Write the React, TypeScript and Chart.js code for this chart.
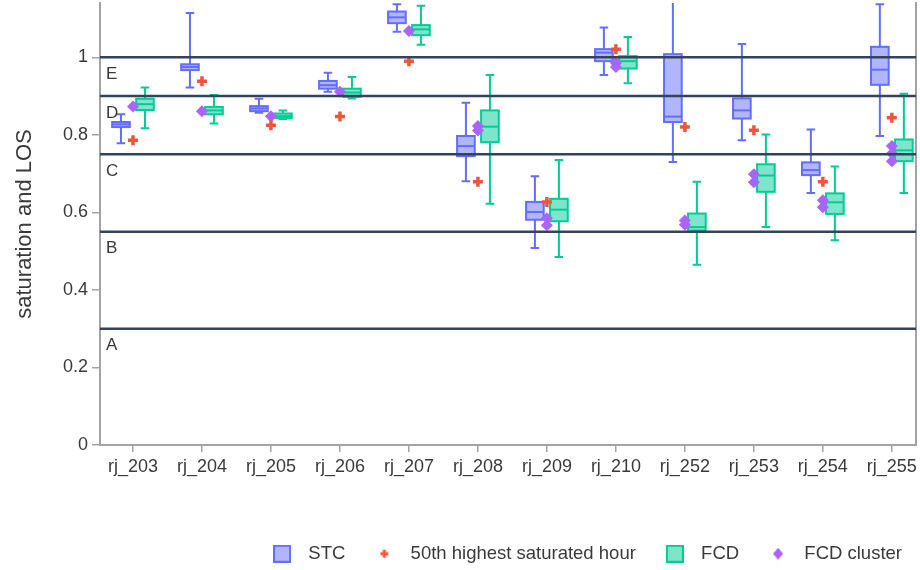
import React, { useEffect, useRef } from 'react';
import { Chart, registerables } from 'chart.js';

Chart.register(...registerables);

// ---------- data ----------
const categories = ['rj_203', 'rj_204', 'rj_205', 'rj_206', 'rj_207', 'rj_208', 'rj_209', 'rj_210', 'rj_252', 'rj_253', 'rj_254', 'rj_255'];

// STC box statistics
const stcLow = [0.778, 0.922, 0.857, 0.911, 1.066, 0.680, 0.508, 0.954, 0.730, 0.786, 0.650, 0.797];
const stcQ1 = [0.820, 0.967, 0.861, 0.919, 1.088, 0.745, 0.581, 0.990, 0.833, 0.842, 0.696, 0.929];
const stcMedian = [0.827, 0.975, 0.868, 0.928, 1.103, 0.771, 0.601, 1.012, 0.847, 0.863, 0.709, 0.968];
const stcQ3 = [0.833, 0.982, 0.874, 0.939, 1.118, 0.797, 0.627, 1.021, 1.008, 0.894, 0.729, 1.027];
const stcHigh = [0.853, 1.114, 0.893, 0.960, 1.137, 0.883, 0.693, 1.077, 1.200, 1.034, 0.814, 1.137];

// FCD box statistics
const fcdLow = [0.817, 0.829, 0.841, 0.894, 1.032, 0.622, 0.485, 0.933, 0.465, 0.562, 0.528, 0.650];
const fcdQ1 = [0.864, 0.853, 0.843, 0.898, 1.057, 0.781, 0.577, 0.971, 0.553, 0.653, 0.596, 0.732];
const fcdMedian = [0.879, 0.863, 0.848, 0.909, 1.072, 0.821, 0.607, 0.990, 0.562, 0.695, 0.626, 0.760];
const fcdQ3 = [0.893, 0.872, 0.855, 0.919, 1.083, 0.863, 0.635, 1.003, 0.597, 0.724, 0.649, 0.788];
const fcdHigh = [0.922, 0.903, 0.863, 0.949, 1.133, 0.954, 0.735, 1.052, 0.679, 0.801, 0.718, 0.906];

// 50th highest saturated hour
const hour50 = [0.786, 0.938, 0.825, 0.847, 0.990, 0.679, 0.627, 1.021, 0.820, 0.812, 0.679, 0.844];

// FCD cluster values per category
const fcdCluster = [
  [0.873], [0.861], [0.848], [0.911], [1.068], [0.823, 0.811], [0.585, 0.567],
  [0.985, 0.975], [0.579, 0.568], [0.698, 0.678], [0.631, 0.613], [0.771, 0.752, 0.732],
];

// Level of service thresholds
const losLevels = [0.3, 0.55, 0.75, 0.9, 1.0];
const losLabels = ['A', 'B', 'C', 'D', 'E'];

const yTicks = [0, 0.2, 0.4, 0.6, 0.8, 1];
const legendLabels = ['STC', '50th highest saturated hour', 'FCD', 'FCD cluster'];

// ---------- styles ----------
const FONT = "'Liberation Sans', Arial, sans-serif";
const TEXT_COLOR = '#3a3a3a';
const AXIS_COLOR = '#a3a3a3';
const LOS_COLOR = '#34435b';
const STC_COLOR = '#636efa';
const STC_FILL = 'rgba(99,110,250,0.5)';
const FCD_COLOR = '#00cc96';
const FCD_FILL = 'rgba(0,204,150,0.5)';
const CROSS_COLOR = '#ef553b';
const DIAMOND_COLOR = '#ab63fa';

const STC_OFFSET = -0.174;
const FCD_OFFSET = 0.174;
const BOX_HALF = 0.128;
const CAP_HALF = 0.062;

const boxPlugin = {
  id: 'boxPlot',
  beforeDatasetsDraw(chart: any) {
    const { ctx, chartArea: a, scales } = chart;
    const xs = scales.x;
    const ys = scales.y;
    ctx.save();
    ctx.beginPath();
    ctx.rect(a.left, a.top, a.right - a.left, a.bottom - a.top);
    ctx.clip();
    const series = [
      { off: STC_OFFSET, lo: stcLow, q1: stcQ1, med: stcMedian, q3: stcQ3, hi: stcHigh, stroke: STC_COLOR, fill: STC_FILL },
      { off: FCD_OFFSET, lo: fcdLow, q1: fcdQ1, med: fcdMedian, q3: fcdQ3, hi: fcdHigh, stroke: FCD_COLOR, fill: FCD_FILL },
    ];
    for (const s of series) {
      categories.forEach((_, i) => {
        const cx = xs.getPixelForValue(i + s.off);
        const hw = xs.getPixelForValue(i + s.off + BOX_HALF) - cx;
        const cw = xs.getPixelForValue(i + s.off + CAP_HALF) - cx;
        const yLo = ys.getPixelForValue(s.lo[i]);
        const yQ1 = ys.getPixelForValue(s.q1[i]);
        const yMed = ys.getPixelForValue(s.med[i]);
        const yQ3 = ys.getPixelForValue(s.q3[i]);
        const yHi = ys.getPixelForValue(s.hi[i]);
        ctx.lineWidth = 2;
        ctx.strokeStyle = s.stroke;
        ctx.beginPath();
        ctx.moveTo(cx, yHi);
        ctx.lineTo(cx, yQ3);
        ctx.moveTo(cx, yQ1);
        ctx.lineTo(cx, yLo);
        ctx.moveTo(cx - cw, yHi);
        ctx.lineTo(cx + cw, yHi);
        ctx.moveTo(cx - cw, yLo);
        ctx.lineTo(cx + cw, yLo);
        ctx.stroke();
        ctx.fillStyle = s.fill;
        ctx.fillRect(cx - hw, yQ3, 2 * hw, yQ1 - yQ3);
        ctx.strokeRect(cx - hw, yQ3, 2 * hw, yQ1 - yQ3);
        ctx.beginPath();
        ctx.moveTo(cx - hw, yMed);
        ctx.lineTo(cx + hw, yMed);
        ctx.stroke();
      });
    }
    ctx.restore();
  },
};

const losPlugin = {
  id: 'losLines',
  afterDatasetsDraw(chart: any) {
    const { ctx, chartArea: a, scales } = chart;
    const ys = scales.y;
    ctx.save();
    ctx.strokeStyle = LOS_COLOR;
    ctx.lineWidth = 2.5;
    ctx.fillStyle = TEXT_COLOR;
    ctx.font = `17px ${FONT}`;
    ctx.textAlign = 'left';
    ctx.textBaseline = 'alphabetic';
    losLevels.forEach((lv, i) => {
      const py = ys.getPixelForValue(lv);
      ctx.beginPath();
      ctx.moveTo(a.left, py);
      ctx.lineTo(a.right, py);
      ctx.stroke();
      ctx.fillText(losLabels[i], a.left + 6, py + 21.5);
    });
    ctx.restore();
  },
};

function makeIcon(kind: string): HTMLCanvasElement {
  const c = document.createElement('canvas');
  const g = c.getContext('2d')!;
  if (kind === 'stc' || kind === 'fcd') {
    c.width = 18;
    c.height = 18;
    g.fillStyle = kind === 'stc' ? STC_FILL : FCD_FILL;
    g.strokeStyle = kind === 'stc' ? STC_COLOR : FCD_COLOR;
    g.lineWidth = 2;
    g.fillRect(1, 1, 16, 16);
    g.strokeRect(1, 1, 16, 16);
  } else if (kind === 'cross') {
    c.width = 10;
    c.height = 10;
    g.strokeStyle = CROSS_COLOR;
    g.lineWidth = 3;
    g.beginPath();
    g.moveTo(5, 1);
    g.lineTo(5, 9);
    g.moveTo(1, 5);
    g.lineTo(9, 5);
    g.stroke();
  } else {
    c.width = 10;
    c.height = 12;
    g.fillStyle = DIAMOND_COLOR;
    g.beginPath();
    g.moveTo(5, 0);
    g.lineTo(10, 6);
    g.lineTo(5, 12);
    g.lineTo(0, 6);
    g.closePath();
    g.fill();
  }
  return c;
}

export default function App() {
  const ref = useRef<HTMLCanvasElement>(null);

  useEffect(() => {
    const canvas = ref.current;
    if (!canvas) return;
    const icons = [makeIcon('stc'), makeIcon('cross'), makeIcon('fcd'), makeIcon('diamond')];

    const crossData = hour50.map((v, i) => ({ x: i, y: v }));
    const clusterData: { x: number; y: number }[] = [];
    fcdCluster.forEach((vals, i) => vals.forEach((v) => clusterData.push({ x: i, y: v })));

    const tickFont = { family: FONT, size: 18 };

    const chart = new Chart(canvas, {
      type: 'scatter',
      data: {
        datasets: [
          {
            label: '50th highest saturated hour',
            data: crossData,
            pointStyle: 'cross',
            pointRadius: 5,
            pointBorderWidth: 3.5,
            pointBorderColor: CROSS_COLOR,
            pointBackgroundColor: CROSS_COLOR,
            borderColor: CROSS_COLOR,
            backgroundColor: CROSS_COLOR,
          },
          {
            label: 'FCD cluster',
            data: clusterData,
            pointStyle: 'rectRot',
            pointRadius: 6,
            pointBorderWidth: 0,
            pointBorderColor: DIAMOND_COLOR,
            pointBackgroundColor: DIAMOND_COLOR,
            borderColor: DIAMOND_COLOR,
            backgroundColor: DIAMOND_COLOR,
          },
        ],
      },
      options: {
        responsive: false,
        animation: false,
        devicePixelRatio: 1,
        layout: { autoPadding: false, padding: { top: 3, left: 0, right: -4, bottom: -3 } },
        scales: {
          x: {
            type: 'linear',
            min: -0.478,
            max: 11.35,
            afterBuildTicks: (s: any) => {
              s.ticks = categories.map((_, i) => ({ value: i }));
            },
            afterFit: (s: any) => {
              s.height = 77.5;
              s.paddingLeft = 0;
              s.paddingRight = 0;
            },
            ticks: {
              callback: (v: any) => categories[v] ?? '',
              autoSkip: false,
              maxRotation: 0,
              minRotation: 0,
              font: tickFont,
              color: TEXT_COLOR,
              padding: 4,
            },
            grid: { drawOnChartArea: false, drawTicks: true, tickLength: 7, color: AXIS_COLOR, lineWidth: 1.5 },
            border: { display: true, color: AXIS_COLOR, width: 2 },
          },
          y: {
            type: 'linear',
            position: 'left',
            min: 0,
            max: 1.14,
            afterBuildTicks: (s: any) => {
              s.ticks = yTicks.map((v) => ({ value: v }));
            },
            afterFit: (s: any) => {
              s.width = 100;
              s.paddingTop = 0;
              s.paddingBottom = 0;
            },
            ticks: {
              callback: (v: any) => String(v),
              font: tickFont,
              color: TEXT_COLOR,
              padding: 4,
            },
            grid: { drawOnChartArea: false, drawTicks: true, tickLength: 8, color: AXIS_COLOR, lineWidth: 1.5 },
            border: { display: true, color: AXIS_COLOR, width: 2 },
            title: {
              display: true,
              text: 'saturation and LOS',
              font: { family: FONT, size: 22 },
              color: TEXT_COLOR,
              padding: { top: 12, bottom: 0 },
            },
          },
          y2: {
            type: 'linear',
            position: 'right',
            min: 0,
            max: 1.14,
            ticks: { display: false },
            grid: { display: false, drawTicks: false },
            border: { display: true, color: AXIS_COLOR, width: 2 },
            afterFit: (s: any) => {
              s.width = 8;
              s.paddingTop = 0;
              s.paddingBottom = 0;
            },
          },
        },
        plugins: {
          tooltip: { enabled: false },
          legend: {
            display: true,
            position: 'bottom',
            align: 'end',
            onClick: () => {},
            labels: {
              usePointStyle: true,
              pointStyleWidth: 34,
              padding: 22,
              font: { family: FONT, size: 18.5 },
              color: TEXT_COLOR,
              generateLabels: () =>
                legendLabels.map((t, i) => ({
                  text: t,
                  pointStyle: icons[i] as any,
                  fillStyle: 'rgba(0,0,0,0)',
                  strokeStyle: 'rgba(0,0,0,0)',
                  lineWidth: 0,
                  hidden: false,
                  fontColor: TEXT_COLOR,
                  datasetIndex: i,
                })),
            },
          },
        },
      } as any,
      plugins: [boxPlugin, losPlugin],
    });

    return () => chart.destroy();
  }, []);

  return (
    <div style={{ position: 'fixed', left: 0, top: 0, width: 920, height: 570, background: '#fff' }}>
      <canvas ref={ref} width={920} height={570} style={{ width: 920, height: 570, display: 'block' }} />
    </div>
  );
}
